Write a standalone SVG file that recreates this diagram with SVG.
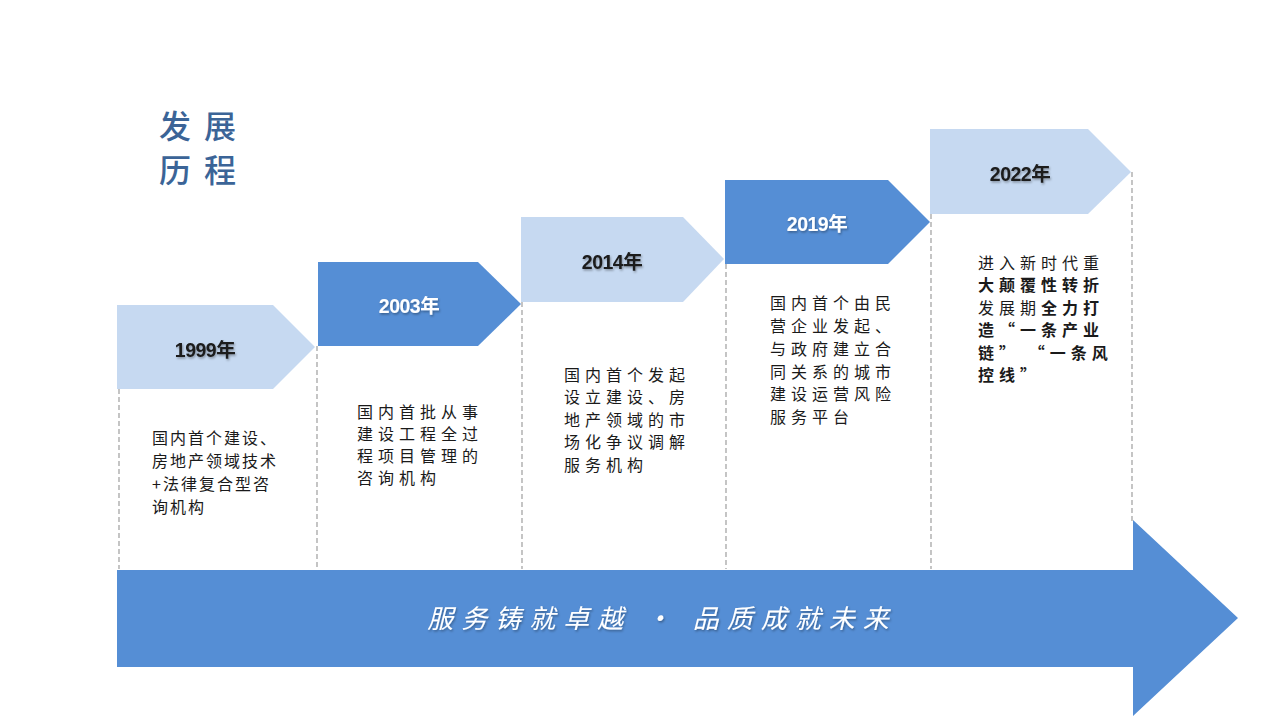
<svg xmlns="http://www.w3.org/2000/svg" width="1280" height="720" viewBox="0 0 1280 720">
<defs>
<filter id="sh" x="-20%" y="-40%" width="140%" height="180%">
<feDropShadow dx="1" dy="1.5" stdDeviation="1" flood-color="#000" flood-opacity="0.35"/>
</filter>
<style>
.light{fill:#C6D9F1}
.dark{fill:#558ED5}
.dash{stroke:#A6A6A6;stroke-width:1.3;stroke-dasharray:5,3;fill:none}
.yr{font-family:"Liberation Sans","Noto Sans CJK SC",sans-serif;font-weight:bold;font-size:19.5px;text-anchor:middle;letter-spacing:-0.5px}
.yd{fill:#1A1A1A}
.yw{fill:#FFFFFF}
.desc{font-family:"Noto Sans CJK SC",sans-serif;font-size:16px;fill:#1A1A1A;letter-spacing:5px}
.b{font-weight:bold}
.title{font-family:"Noto Sans CJK SC",sans-serif;font-size:32px;font-weight:500;fill:#3B6497;letter-spacing:13px}
.banner{font-family:"Noto Sans CJK SC",sans-serif;font-size:26px;font-style:italic;fill:#FFFFFF;letter-spacing:8px}
</style>
</defs>
<rect width="1280" height="720" fill="#FFFFFF"/>

<g id="title">
<text class="title" x="159" y="138">发展</text>
<text class="title" x="159" y="182">历程</text>
</g>

<g id="connectors">
<line class="dash" x1="119" y1="389" x2="119" y2="569"/>
<line class="dash" x1="317" y1="346" x2="317" y2="569"/>
<line class="dash" x1="522" y1="302" x2="522" y2="569"/>
<line class="dash" x1="726" y1="264" x2="726" y2="569"/>
<line class="dash" x1="931" y1="214" x2="931" y2="569"/>
<line class="dash" x1="1132" y1="172" x2="1132" y2="522"/>
</g>

<g id="main-arrow">
<polygon class="dark" points="117,570 1133,570 1133,520 1238,618 1133,716 1133,667 117,667"/>
<text class="banner" x="662" y="628" text-anchor="middle" filter="url(#sh)">服务铸就卓越 · 品质成就未来</text>
</g>

<g id="node-1999">
<polygon class="light" points="117,305 273,305 315,347 273,389 117,389"/>
<text class="yr yd" x="205" y="357" filter="url(#sh)">1999年</text>
<text class="desc" style="letter-spacing:2px" x="152">
<tspan x="152" y="444">国内首个建设、</tspan>
<tspan x="152" y="467">房地产领域技术</tspan>
<tspan x="152" y="490">+法律复合型咨</tspan>
<tspan x="152" y="513">询机构</tspan>
</text>
</g>

<g id="node-2003">
<polygon class="dark" points="318,262 478,262 521,304 478,346 318,346"/>
<text class="yr yw" x="409" y="313" filter="url(#sh)">2003年</text>
<text class="desc">
<tspan x="357" y="418">国内首批从事</tspan>
<tspan x="357" y="440">建设工程全过</tspan>
<tspan x="357" y="462">程项目管理的</tspan>
<tspan x="357" y="484">咨询机构</tspan>
</text>
</g>

<g id="node-2014">
<polygon class="light" points="521,217 683,217 724,259 683,302 521,302"/>
<text class="yr yd" x="612" y="269" filter="url(#sh)">2014年</text>
<text class="desc">
<tspan x="564" y="381">国内首个发起</tspan>
<tspan x="564" y="403">设立建设、房</tspan>
<tspan x="564" y="426">地产领域的市</tspan>
<tspan x="564" y="448">场化争议调解</tspan>
<tspan x="564" y="471">服务机构</tspan>
</text>
</g>

<g id="node-2019">
<polygon class="dark" points="725,180 888,180 930,222 888,264 725,264"/>
<text class="yr yw" x="817" y="231" filter="url(#sh)">2019年</text>
<text class="desc">
<tspan x="770" y="309">国内首个由民</tspan>
<tspan x="770" y="332">营企业发起、</tspan>
<tspan x="770" y="355">与政府建立合</tspan>
<tspan x="770" y="378">同关系的城市</tspan>
<tspan x="770" y="400">建设运营风险</tspan>
<tspan x="770" y="423">服务平台</tspan>
</text>
</g>

<g id="node-2022">
<polygon class="light" points="930,129 1088,129 1131,172 1088,214 930,214"/>
<text class="yr yd" x="1020" y="181" filter="url(#sh)">2022年</text>
<text class="desc">
<tspan x="978" y="269">进入新时代重</tspan>
<tspan x="978" y="291" class="b">大颠覆性转折</tspan>
<tspan x="978" y="314">发展期<tspan class="b">全力打</tspan></tspan>
<tspan x="978" y="336" class="b">造“一条产业</tspan>
<tspan x="978" y="359" class="b">链” “一条风</tspan>
<tspan x="978" y="381" class="b">控线”</tspan>
</text>
</g>
</svg>
